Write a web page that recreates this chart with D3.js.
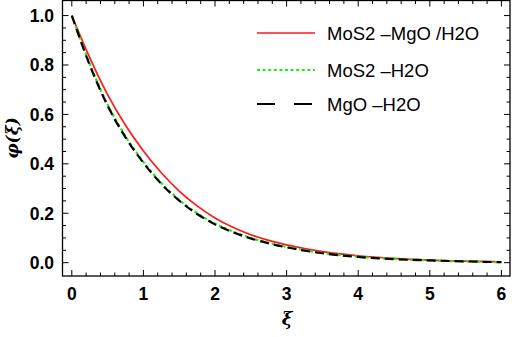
<!DOCTYPE html>
<html>
<head>
<meta charset="utf-8">
<script src="https://cdn.jsdelivr.net/npm/d3@7"></script>
<style>
  body { margin: 0; background: #fff; }
  svg { display: block; }
</style>
</head>
<body>
<div id="chart"></div>
<script>
// xi values sampled along the curves
const xi = [0, 0.25, 0.5, 0.75, 1, 1.25, 1.5, 1.75, 2, 2.25, 2.5, 2.75, 3, 3.5, 4, 4.5, 5, 5.5, 6];
const hybrid = [1.0, 0.83, 0.68, 0.556, 0.452, 0.364, 0.29, 0.23, 0.181, 0.143, 0.113, 0.09, 0.072, 0.045, 0.028, 0.017, 0.01, 0.006, 0.003];
const mos2 = [1.0, 0.805, 0.64, 0.512, 0.408, 0.322, 0.254, 0.2, 0.158, 0.126, 0.1, 0.08, 0.064, 0.039, 0.024, 0.015, 0.009, 0.005, 0.002];
const mgo = [1.0, 0.80, 0.635, 0.507, 0.404, 0.319, 0.251, 0.197, 0.155, 0.123, 0.098, 0.078, 0.062, 0.038, 0.023, 0.014, 0.009, 0.005, 0.002];
const seriesNames = ["MoS2 \u2013MgO /H2O", "MoS2 \u2013H2O", "MgO \u2013H2O"];
const xTicks = [0, 1, 2, 3, 4, 5, 6];
const yTicks = [0, 0.2, 0.4, 0.6, 0.8, 1.0];

const W = 512, H = 337;
const svg = d3.select("#chart").append("svg").attr("width", W).attr("height", H);

const x = d3.scaleLinear().domain([-0.13, 6.12]).range([62.5, 510]);
const y = d3.scaleLinear().domain([-0.054, 1.061]).range([276, 0.5]);

const series = [
  { name: seriesNames[0], vals: hybrid, color: "#ff1a1a", dash: null, width: 1.7 },
  { name: seriesNames[1], vals: mos2, color: "#1aee1a", dash: "3,2.6", width: 2.2 },
  { name: seriesNames[2], vals: mgo, color: "#000", dash: "9,5", width: 2.2 }
];

// frame
svg.append("rect")
  .attr("x", x.range()[0]).attr("y", y.range()[1])
  .attr("width", x.range()[1] - x.range()[0])
  .attr("height", y.range()[0] - y.range()[1])
  .attr("fill", "none").attr("stroke", "#000").attr("stroke-width", 1.3);

// ticks on all four sides, pointing inward
const xMinor = d3.range(0, 6.01, 0.2).filter(v => Math.abs(v - Math.round(v)) > 1e-6);
const yMinor = d3.range(0, 1.001, 0.05).filter(v => Math.abs(v * 5 - Math.round(v * 5)) > 1e-6);
const g = svg.append("g").attr("stroke", "#000").attr("stroke-width", 1);
function xt(list, len) {
  list.forEach(v => {
    g.append("line").attr("x1", x(v)).attr("x2", x(v)).attr("y1", y.range()[0]).attr("y2", y.range()[0] - len);
    g.append("line").attr("x1", x(v)).attr("x2", x(v)).attr("y1", y.range()[1]).attr("y2", y.range()[1] + len);
  });
}
function yt(list, len) {
  list.forEach(v => {
    g.append("line").attr("y1", y(v)).attr("y2", y(v)).attr("x1", x.range()[0]).attr("x2", x.range()[0] + len);
    g.append("line").attr("y1", y(v)).attr("y2", y(v)).attr("x1", x.range()[1]).attr("x2", x.range()[1] - len);
  });
}
xt(xTicks, 6); xt(xMinor, 3.5);
yt(yTicks, 6); yt(yMinor, 3.5);

// tick labels
svg.append("g").selectAll("text").data(xTicks).enter().append("text")
  .attr("x", d => x(d)).attr("y", 300)
  .attr("text-anchor", "middle")
  .style("font", "bold 17.5px 'Liberation Sans', Arial, sans-serif")
  .text(d => d);
svg.append("g").selectAll("text").data(yTicks).enter().append("text")
  .attr("x", 54).attr("y", d => y(d)).attr("dy", "0.36em")
  .attr("text-anchor", "end")
  .style("font", "bold 17.5px 'Liberation Sans', Arial, sans-serif")
  .text(d => d.toFixed(1));

// axis labels
svg.append("text")
  .attr("x", 287).attr("y", 325)
  .attr("text-anchor", "middle")
  .style("font", "italic bold 18px 'DejaVu Serif', serif")
  .text("\u03BE");
svg.append("text")
  .attr("transform", "translate(18,138) rotate(-90)")
  .attr("text-anchor", "middle")
  .style("font", "italic bold 17px 'DejaVu Serif', serif")
  .text("\u03C6(\u03BE)");

// curves
const line = d3.line()
  .x((d, i) => x(xi[i]))
  .y(d => y(d))
  .curve(d3.curveMonotoneX);

svg.append("g").selectAll("path").data(series).enter().append("path")
  .attr("d", d => line(d.vals))
  .attr("fill", "none")
  .attr("stroke", d => d.color)
  .attr("stroke-width", d => d.width)
  .attr("stroke-dasharray", d => d.dash);

// legend
const legY = [33, 70, 104];
const legDash = [null, "3,2.6", "18,19"];
const leg = svg.append("g").selectAll("g").data(series).enter().append("g");
leg.append("line")
  .attr("x1", 257).attr("x2", 315)
  .attr("y1", (d, i) => legY[i]).attr("y2", (d, i) => legY[i])
  .attr("stroke", d => d.color)
  .attr("stroke-width", d => d.width)
  .attr("stroke-dasharray", (d, i) => legDash[i]);
leg.append("text")
  .attr("x", 327).attr("y", (d, i) => legY[i]).attr("dy", "0.36em")
  .style("font", "18.5px 'Liberation Sans', Arial, sans-serif")
  .text(d => d.name);
</script>
</body>
</html>
